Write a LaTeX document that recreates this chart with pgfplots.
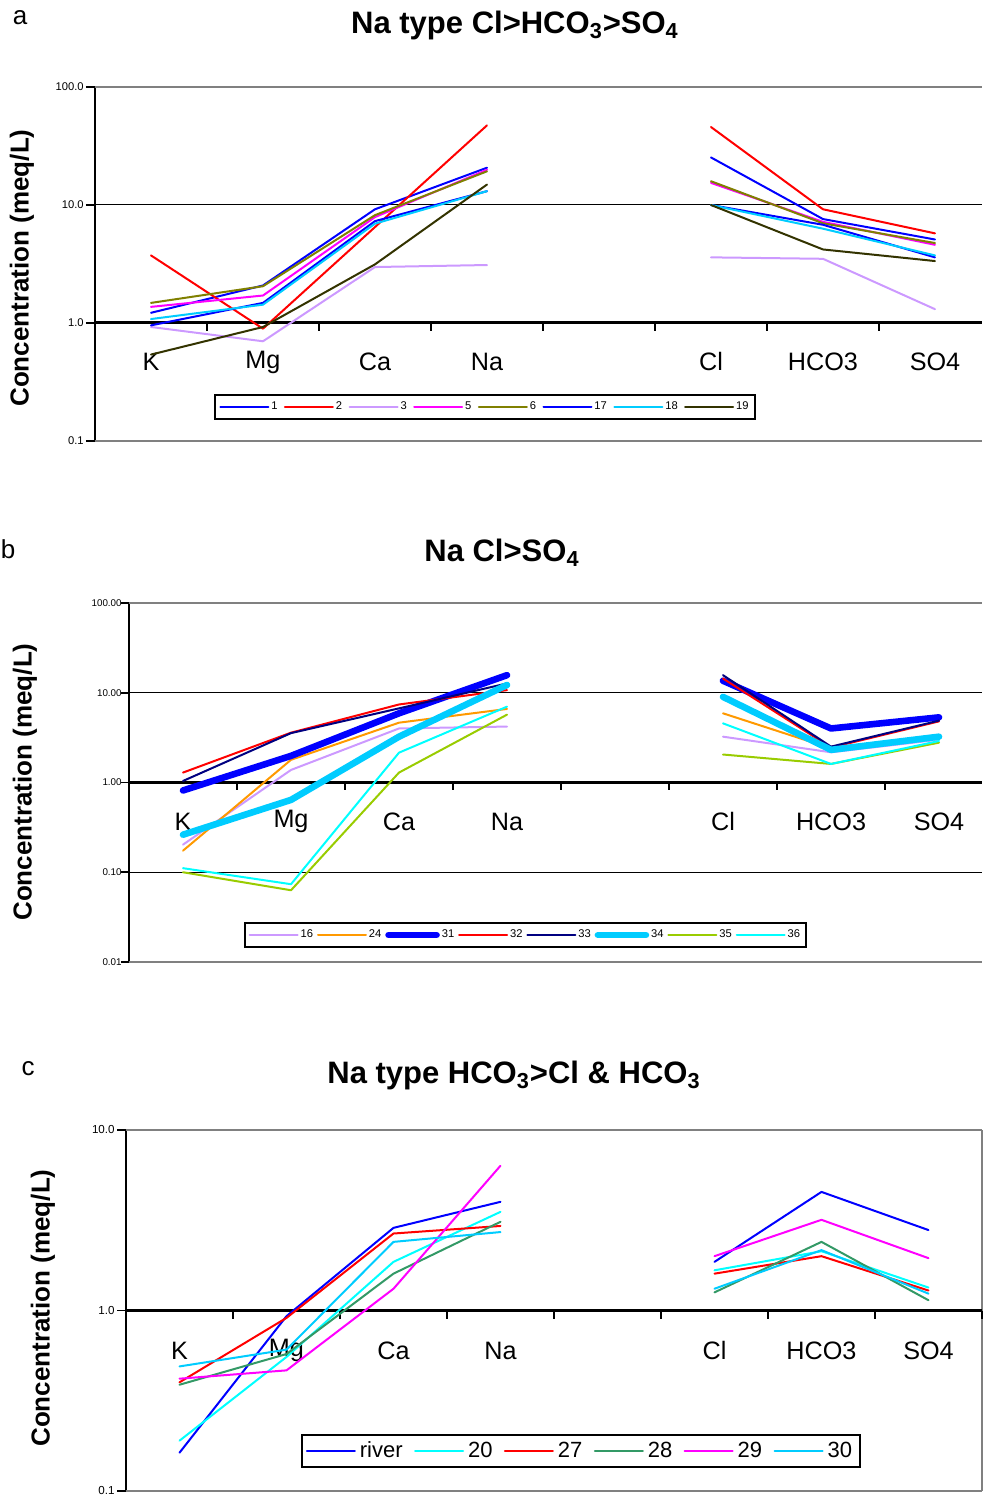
\documentclass[border=0pt]{standalone}
\usepackage{pgfplots}
\pgfplotsset{compat=1.18}
\usepackage{fontspec}
\setmainfont{Liberation Sans}

% Ion concentration profiles (meq/L) for three water types
\definecolor{cBlue}{HTML}{0000FF}
\definecolor{cRed}{HTML}{FF0000}
\definecolor{cLav}{HTML}{CC99FF}
\definecolor{cMag}{HTML}{FF00FF}
\definecolor{cOlive}{HTML}{808000}
\definecolor{cSky}{HTML}{00CCFF}
\definecolor{cDark}{HTML}{333300}
\definecolor{cOrange}{HTML}{FF9900}
\definecolor{cNavy}{HTML}{000080}
\definecolor{cLime}{HTML}{99CC00}
\definecolor{cCyan}{HTML}{00FFFF}
\definecolor{cSea}{HTML}{339966}
\definecolor{cGray}{HTML}{808080}
\tikzset{
  ln/.style={line width=1pt, line join=round, line cap=round, draw=#1},
  thk/.style={line width=3.3pt, line join=round, line cap=round, draw=#1},
}

\begin{document}
\begin{tikzpicture}
\useasboundingbox (0,0) rectangle (491pt,748pt);

% ---------------- panel a ----------------
\node[font=\fontsize{13}{15}\selectfont] at (10pt,739pt) {a};
\node[font=\fontsize{15.5}{18}\selectfont\bfseries] at (257.5pt,735.5pt)
  {Na type Cl>HCO\textsubscript{3}>SO\textsubscript{4}};
\node[rotate=90, font=\fontsize{13}{15}\selectfont\bfseries] at (11pt,614pt) {Concentration (meq/L)};
\begin{axis}[
  scale only axis, anchor=south west,
  at={(47.5pt,527.5pt)}, width=443.5pt, height=177pt,
  ymode=log, xmin=-0.5, xmax=7.42, ymin=0.1, ymax=100,
  axis x line*=bottom, axis y line*=left,
  x axis line style={draw=none},
  y axis line style={black, line width=1pt},
  xtick={0,1,2,3,5,6,7},
  xticklabels={K,Mg,Ca,Na,Cl,HCO3,SO4},
  xtick style={draw=none},
  xticklabel style={font=\fontsize{12.6}{14}\selectfont, anchor=center, yshift=44pt},
  ytick={0.1,1,10,100}, yticklabels={0.1,1.0,10.0,100.0},
  ytick style={black, line width=0.8pt},
  tick align=outside, major tick length=4.5pt,
  yminorticks=false,
  yticklabel style={font=\fontsize{5.6}{6}\selectfont, inner sep=1pt},
  ymajorgrids, major grid style={black, line width=0.5pt},
  unbounded coords=jump, clip=false,
  legend image code/.code={\draw[#1] (0pt,0pt) -- (24pt,0pt);},
  legend columns=8,
  legend style={at={(0.4397,0.096)}, anchor=center, draw=black, line width=1pt,
    font=\fontsize{5.6}{6}\selectfont, inner xsep=2pt, inner ysep=1.5pt,
    nodes={inner xsep=1pt},
    /tikz/every even column/.append style={column sep=2.2pt}},
]
\draw[cGray, line width=1pt] (rel axis cs:0,1) -- (rel axis cs:1,1);
\draw[cGray, line width=1pt] (rel axis cs:0,0) -- (rel axis cs:1,0);
\draw[black, line width=1.5pt] (axis cs:-0.5,1) -- (axis cs:7.42,1);
\draw[black, line width=1pt] (axis cs:0.5,1) -- ++(0pt,-4pt);
\draw[black, line width=1pt] (axis cs:1.5,1) -- ++(0pt,-4pt);
\draw[black, line width=1pt] (axis cs:2.5,1) -- ++(0pt,-4pt);
\draw[black, line width=1pt] (axis cs:3.5,1) -- ++(0pt,-4pt);
\draw[black, line width=1pt] (axis cs:4.5,1) -- ++(0pt,-4pt);
\draw[black, line width=1pt] (axis cs:5.5,1) -- ++(0pt,-4pt);
\draw[black, line width=1pt] (axis cs:6.5,1) -- ++(0pt,-4pt);
\addplot[ln=cBlue] coordinates {(0,1.22) (1,2.08) (2,9.2) (3,20.7) (4,nan) (5,25.3) (6,7.6) (7,5.1)};
\addlegendentry{1}
\addplot[ln=cRed] coordinates {(0,3.74) (1,0.895) (2,6.5) (3,47.3) (4,nan) (5,45.8) (6,9.2) (7,5.75)};
\addlegendentry{2}
\addplot[ln=cLav] coordinates {(0,0.925) (1,0.70) (2,2.98) (3,3.10) (4,nan) (5,3.6) (6,3.5) (7,1.31)};
\addlegendentry{3}
\addplot[ln=cMag] coordinates {(0,1.37) (1,1.71) (2,7.9) (3,19.9) (4,nan) (5,15.4) (6,7.2) (7,4.6)};
\addlegendentry{5}
\addplot[ln=cOlive] coordinates {(0,1.48) (1,2.05) (2,8.2) (3,19.3) (4,nan) (5,15.9) (6,7.0) (7,4.76)};
\addlegendentry{6}
\addplot[ln=cBlue] coordinates {(0,0.955) (1,1.48) (2,7.3) (3,13.1) (4,nan) (5,10.0) (6,6.8) (7,3.6)};
\addlegendentry{17}
\addplot[ln=cSky] coordinates {(0,1.08) (1,1.43) (2,6.95) (3,13.1) (4,nan) (5,10.0) (6,6.3) (7,3.74)};
\addlegendentry{18}
\addplot[ln=cDark] coordinates {(0,0.54) (1,0.925) (2,3.14) (3,14.9) (4,nan) (5,10.0) (6,4.2) (7,3.35)};
\addlegendentry{19}
\end{axis}

% ---------------- panel b ----------------
\node[font=\fontsize{13}{15}\selectfont] at (4pt,473.5pt) {b};
\node[font=\fontsize{15.5}{18}\selectfont\bfseries] at (251pt,471.5pt)
  {Na Cl>SO\textsubscript{4}};
\node[rotate=90, font=\fontsize{13}{15}\selectfont\bfseries] at (12.5pt,357pt) {Concentration (meq/L)};
\begin{axis}[
  scale only axis, anchor=south west,
  at={(64.5pt,267pt)}, width=426.5pt, height=179.5pt,
  ymode=log, xmin=-0.5, xmax=7.398, ymin=0.01, ymax=100,
  axis x line*=bottom, axis y line*=left,
  x axis line style={draw=none},
  y axis line style={black, line width=1pt},
  xtick={0,1,2,3,5,6,7},
  xticklabels={K,Mg,Ca,Na,Cl,HCO3,SO4},
  xtick style={draw=none},
  xticklabel style={font=\fontsize{12.6}{14}\selectfont, anchor=center, yshift=74.25pt},
  ytick={0.01,0.1,1,10,100}, yticklabels={0.01,0.10,1.00,10.00,100.00},
  ytick style={black, line width=0.8pt},
  tick align=outside, major tick length=4pt,
  yminorticks=false,
  yticklabel style={font=\fontsize{4.9}{5.5}\selectfont, inner sep=0.5pt, xshift=1pt},
  ymajorgrids, major grid style={black, line width=0.5pt},
  unbounded coords=jump, clip=false,
  legend image code/.code={\draw[#1] (0pt,0pt) -- (24pt,0pt);},
  legend columns=8,
  legend style={at={(0.4648,0.0752)}, anchor=center, draw=black, line width=1pt,
    font=\fontsize{5.6}{6}\selectfont, inner xsep=2pt, inner ysep=1.5pt,
    nodes={inner xsep=1pt},
    /tikz/every even column/.append style={column sep=0.9pt}},
]
\draw[cGray, line width=1pt] (rel axis cs:0,1) -- (rel axis cs:1,1);
\draw[cGray, line width=1pt] (rel axis cs:0,0) -- (rel axis cs:1,0);
\draw[black, line width=1.5pt] (axis cs:-0.5,1) -- (axis cs:7.398,1);
\draw[black, line width=1pt] (axis cs:0.5,1) -- ++(0pt,-4pt);
\draw[black, line width=1pt] (axis cs:1.5,1) -- ++(0pt,-4pt);
\draw[black, line width=1pt] (axis cs:2.5,1) -- ++(0pt,-4pt);
\draw[black, line width=1pt] (axis cs:3.5,1) -- ++(0pt,-4pt);
\draw[black, line width=1pt] (axis cs:4.5,1) -- ++(0pt,-4pt);
\draw[black, line width=1pt] (axis cs:5.5,1) -- ++(0pt,-4pt);
\draw[black, line width=1pt] (axis cs:6.5,1) -- ++(0pt,-4pt);
\addplot[ln=cLav] coordinates {(0,0.203) (1,1.38) (2,4.0) (3,4.2) (4,nan) (5,3.24) (6,2.17) (7,3.0)};
\addlegendentry{16}
\addplot[ln=cOrange] coordinates {(0,0.174) (1,1.79) (2,4.64) (3,6.6) (4,nan) (5,5.9) (6,2.4) (7,3.1)};
\addlegendentry{24}
\addplot[thk=cBlue] coordinates {(0,0.815) (1,1.98) (2,5.9) (3,15.7) (4,nan) (5,13.6) (6,4.0) (7,5.32)};
\addlegendentry{31}
\addplot[ln=cRed] coordinates {(0,1.29) (1,3.59) (2,7.4) (3,10.7) (4,nan) (5,14.4) (6,2.45) (7,4.8)};
\addlegendentry{32}
\addplot[ln=cNavy] coordinates {(0,1.04) (1,3.55) (2,6.7) (3,12.7) (4,nan) (5,15.7) (6,2.51) (7,4.89)};
\addlegendentry{33}
\addplot[thk=cSky] coordinates {(0,0.262) (1,0.64) (2,3.24) (3,12.2) (4,nan) (5,9.0) (6,2.31) (7,3.24)};
\addlegendentry{34}
\addplot[ln=cLime] coordinates {(0,0.10) (1,0.063) (2,1.29) (3,5.7) (4,nan) (5,2.05) (6,1.61) (7,2.78)};
\addlegendentry{35}
\addplot[ln=cCyan] coordinates {(0,0.111) (1,0.0736) (2,2.15) (3,7.0) (4,nan) (5,4.56) (6,1.61) (7,2.9)};
\addlegendentry{36}
\end{axis}

% ---------------- panel c ----------------
\node[font=\fontsize{13}{15}\selectfont] at (14pt,213.5pt) {c};
\node[font=\fontsize{15.5}{18}\selectfont\bfseries] at (257pt,210.5pt)
  {Na type HCO\textsubscript{3}>Cl \& HCO\textsubscript{3}};
\node[rotate=90, font=\fontsize{13}{15}\selectfont\bfseries] at (21.5pt,94pt) {Concentration (meq/L)};
\begin{axis}[
  scale only axis, anchor=south west,
  at={(63pt,2.5pt)}, width=428pt, height=180.5pt,
  ymode=log, xmin=-0.5, xmax=7.5, ymin=0.1, ymax=10,
  axis x line*=bottom, axis y line*=left,
  x axis line style={draw=none},
  y axis line style={black, line width=1pt},
  xtick={0,1,2,3,5,6,7},
  xticklabels={K,Mg,Ca,Na,Cl,HCO3,SO4},
  xtick style={draw=none},
  xticklabel style={font=\fontsize{12.6}{14}\selectfont, anchor=center, yshift=74.75pt},
  ytick={0.1,1,10}, yticklabels={0.1,1.0,10.0},
  ytick style={black, line width=0.8pt},
  tick align=outside, major tick length=4.5pt,
  yminorticks=false,
  yticklabel style={font=\fontsize{5.8}{6.5}\selectfont, inner sep=1pt},
  ymajorgrids, major grid style={black, line width=0.5pt},
  unbounded coords=jump, clip=false,
  legend image code/.code={\draw[#1] (0pt,0pt) -- (24pt,0pt);},
  legend columns=6,
  legend style={at={(0.5315,0.1108)}, anchor=center, draw=black, line width=1pt,
    font=\fontsize{11}{13}\selectfont, inner xsep=2pt, inner ysep=1.5pt,
    /tikz/every even column/.append style={column sep=3.7pt}},
]
\draw[cGray, line width=1pt] (rel axis cs:0,1) -- (rel axis cs:1,1);
\draw[cGray, line width=1pt] (rel axis cs:0,0) -- (rel axis cs:1,0);
\draw[cGray, line width=1pt] (rel axis cs:1,0) -- (rel axis cs:1,1);
\draw[black, line width=1.5pt] (axis cs:-0.5,1) -- (axis cs:7.5,1);
\draw[black, line width=1pt] (axis cs:0.5,1) -- ++(0pt,-4pt);
\draw[black, line width=1pt] (axis cs:1.5,1) -- ++(0pt,-4pt);
\draw[black, line width=1pt] (axis cs:2.5,1) -- ++(0pt,-4pt);
\draw[black, line width=1pt] (axis cs:3.5,1) -- ++(0pt,-4pt);
\draw[black, line width=1pt] (axis cs:4.5,1) -- ++(0pt,-4pt);
\draw[black, line width=1pt] (axis cs:5.5,1) -- ++(0pt,-4pt);
\draw[black, line width=1pt] (axis cs:6.5,1) -- ++(0pt,-4pt);
\draw[black, line width=1pt] (axis cs:7.5,1) -- ++(0pt,-4pt);
\addplot[ln=cBlue] coordinates {(0,0.163) (1,0.93) (2,2.87) (3,4.0) (4,nan) (5,1.86) (6,4.54) (7,2.79)};
\addlegendentry{river}
\addplot[ln=cCyan] coordinates {(0,0.19) (1,0.553) (2,1.86) (3,3.52) (4,nan) (5,1.67) (6,2.13) (7,1.34)};
\addlegendentry{20}
\addplot[ln=cRed] coordinates {(0,0.40) (1,0.91) (2,2.67) (3,2.94) (4,nan) (5,1.6) (6,2.0) (7,1.29)};
\addlegendentry{27}
\addplot[ln=cSea] coordinates {(0,0.388) (1,0.574) (2,1.6) (3,3.1) (4,nan) (5,1.26) (6,2.4) (7,1.14)};
\addlegendentry{28}
\addplot[ln=cMag] coordinates {(0,0.419) (1,0.466) (2,1.32) (3,6.34) (4,nan) (5,2.0) (6,3.18) (7,1.95)};
\addlegendentry{29}
\addplot[ln=cSky] coordinates {(0,0.49) (1,0.607) (2,2.4) (3,2.72) (4,nan) (5,1.32) (6,2.16) (7,1.24)};
\addlegendentry{30}
\end{axis}
\end{tikzpicture}
\end{document}
